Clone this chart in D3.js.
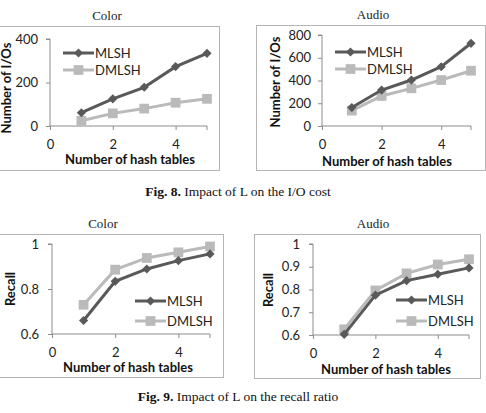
<!DOCTYPE html>
<html>
<head>
<meta charset="utf-8">
<script src="https://cdn.jsdelivr.net/npm/d3@7"></script>
<style>
    body { margin: 0; background: #fff; }
    svg { display: block; }
    .d3-axis path, .d3-axis line { stroke: #8c8c8c; }
    .d3-axis text { font-family: Lato, "Open Sans", sans-serif; font-size: 13px; fill: #222; }
</style>
</head>
<body>
<svg id="chart"></svg>
<script>
// data
var hashTables = [1, 2, 3, 4, 5];
var xTicks = [0, 2, 4];
var seriesNames = ['MLSH', 'DMLSH'];

var colorIoMlsh = [61, 125, 178, 273, 334];
var colorIoDmlsh = [24, 58, 80, 107, 125];
var audioIoMlsh = [162, 316, 404, 521, 727];
var audioIoDmlsh = [135, 264, 331, 404, 486];
var colorRecallMlsh = [0.660, 0.834, 0.889, 0.926, 0.956];
var colorRecallDmlsh = [0.730, 0.886, 0.938, 0.963, 0.989];
var audioRecallMlsh = [0.603, 0.775, 0.839, 0.867, 0.895];
var audioRecallDmlsh = [0.625, 0.796, 0.871, 0.910, 0.933];

var colorIoTicks = [0, 200, 400];
var audioIoTicks = [0, 200, 400, 600, 800];
var colorRecallTicks = [0.6, 0.8, 1];
var audioRecallTicks = [0.6, 0.7, 0.8, 0.9, 1];

var svg = d3.select('#chart').attr('width', 486).attr('height', 413);

var seriesStyle = [
    { color: '#595959', marker: 'diamond' },
    { color: '#bababa', marker: 'square' }
];

// plain number labels, like "0.6" and "1"
var plainFormat = function (d) { return String(d); };

function drawLineChart(options, dataset) {
    var g = svg.append('g');

    // outer box of the chart
    g.append('rect')
        .attr('x', options.box.x + 0.5)
        .attr('y', options.box.y + 0.5)
        .attr('width', options.box.w)
        .attr('height', options.box.h)
        .attr('fill', 'none')
        .attr('stroke', '#b4b4b4');

    // title above box
    svg.append('text')
        .text(options.title)
        .attr('x', options.titleX)
        .attr('y', options.box.y - 6)
        .attr('text-anchor', 'middle')
        .attr('font-family', '"Liberation Serif", serif')
        .attr('font-size', '13px')
        .attr('fill', '#222');

    var xScale = d3.scaleLinear().domain([0, 5]).range(options.xRange);
    var yScale = d3.scaleLinear().domain(options.yDomain).range(options.yRange);

    // axes
    g.append('g')
        .attr('class', 'd3-axis')
        .attr('transform', 'translate(' + options.xRange[0] + ',0)')
        .call(d3.axisLeft(yScale).tickValues(options.yTicks).tickFormat(plainFormat).tickSize(4).tickPadding(options.yPad))
        .call(function (a) { a.select('.domain').attr('d', 'M-4,' + options.yRange[1] + 'H0V' + options.yRange[0]); });

    g.append('g')
        .attr('class', 'd3-axis')
        .attr('transform', 'translate(0,' + options.yRange[0] + ')')
        .call(d3.axisBottom(xScale).tickValues(xTicks).tickFormat(plainFormat).tickSize(4).tickPadding(10))
        .call(function (a) { a.select('.domain').attr('d', 'M' + options.xRange[0] + ',0H' + options.xRange[1] + 'v4'); });

    // axis titles
    g.append('text')
        .text('Number of hash tables')
        .attr('x', options.xTitleX)
        .attr('y', options.xTitleY)
        .attr('text-anchor', 'middle')
        .attr('font-family', 'Lato, "Open Sans", sans-serif')
        .attr('font-weight', 'bold')
        .attr('font-size', '13px')
        .attr('fill', '#111');

    g.append('text')
        .text(options.yLabel)
        .attr('transform', 'translate(' + options.yTitleX + ',' + options.yTitleY + ') rotate(-90)')
        .attr('text-anchor', 'middle')
        .attr('dy', '0.35em')
        .attr('font-family', 'Lato, "Open Sans", sans-serif')
        .attr('font-weight', 'bold')
        .attr('font-size', '13px')
        .attr('fill', '#111');

    var line = d3.line()
        .x(function (d, i) { return xScale(hashTables[i]); })
        .y(function (d) { return yScale(d); });

    // light series drawn first so dark one sits on top
    [1, 0].forEach(function (s) {
        var st = seriesStyle[s];
        g.append('path')
            .datum(dataset[s])
            .attr('d', line)
            .attr('fill', 'none')
            .attr('stroke', st.color)
            .attr('stroke-width', 3);

        g.selectAll('.m' + s)
            .data(dataset[s])
            .enter()
            .append('path')
            .attr('d', d3.symbol().type(d3.symbolSquare).size(st.marker === 'square' ? 95 : 42))
            .attr('transform', function (d, i) {
                return 'translate(' + xScale(hashTables[i]) + ',' + yScale(d) + ')' + (st.marker === 'diamond' ? ' rotate(45)' : '');
            })
            .attr('fill', st.color);
    });

    // legend
    var lg = g.append('g').attr('transform', 'translate(' + options.legend.x + ',' + options.legend.y + ')');
    var rows = lg.selectAll('g')
        .data(seriesNames)
        .enter()
        .append('g')
        .attr('transform', function (d, i) { return 'translate(0,' + i * options.legend.step + ')'; });
    rows.append('line')
        .attr('x1', 0).attr('x2', 31)
        .attr('stroke', function (d, i) { return seriesStyle[i].color; })
        .attr('stroke-width', 3);
    rows.append('path')
        .attr('d', function (d, i) { return d3.symbol().type(d3.symbolSquare).size(i === 1 ? 95 : 42)(); })
        .attr('transform', function (d, i) { return 'translate(15.5,0)' + (i === 0 ? ' rotate(45)' : ''); })
        .attr('fill', function (d, i) { return seriesStyle[i].color; });
    rows.append('text')
        .text(function (d) { return d; })
        .attr('x', 32)
        .attr('dy', '0.36em')
        .attr('font-family', 'Lato, "Open Sans", sans-serif')
        .attr('font-size', '13px')
        .attr('fill', '#222');
}

drawLineChart({
    title: 'Color', titleX: 107,
    box: { x: -5, y: 26, w: 224, h: 144 },
    xRange: [50, 207], yRange: [126, 39], yDomain: [0, 400], yTicks: colorIoTicks, yPad: 8,
    yLabel: 'Number of I/Os', yTitleX: 6, yTitleY: 88,
    xTitleX: 130, xTitleY: 164,
    legend: { x: 63, y: 53, step: 17 }
}, [colorIoMlsh, colorIoDmlsh]);

drawLineChart({
    title: 'Audio', titleX: 373,
    box: { x: 256, y: 25, w: 229, h: 145 },
    xRange: [322, 471], yRange: [126, 35], yDomain: [0, 800], yTicks: audioIoTicks, yPad: 7,
    yLabel: 'Number of I/Os', yTitleX: 275, yTitleY: 82,
    xTitleX: 387, xTitleY: 166,
    legend: { x: 335, y: 52, step: 17 }
}, [audioIoMlsh, audioIoDmlsh]);

drawLineChart({
    title: 'Color', titleX: 103,
    box: { x: -5, y: 234, w: 228, h: 143 },
    xRange: [52, 210], yRange: [334, 244], yDomain: [0.6, 1], yTicks: colorRecallTicks, yPad: 9,
    yLabel: 'Recall', yTitleX: 10, yTitleY: 289,
    xTitleX: 128, xTitleY: 372,
    legend: { x: 135, y: 301, step: 20 }
}, [colorRecallMlsh, colorRecallDmlsh]);

drawLineChart({
    title: 'Audio', titleX: 373,
    box: { x: 254, y: 234, w: 226, h: 144 },
    xRange: [313, 469], yRange: [335, 244], yDomain: [0.6, 1], yTicks: audioRecallTicks, yPad: 9,
    yLabel: 'Recall', yTitleX: 268, yTitleY: 290,
    xTitleX: 386, xTitleY: 374,
    legend: { x: 396, y: 300, step: 21 }
}, [audioRecallMlsh, audioRecallDmlsh]);

// figure captions
function caption(y, bold, rest) {
    var t = svg.append('text')
        .attr('x', 238)
        .attr('y', y)
        .attr('text-anchor', 'middle')
        .attr('font-family', '"Liberation Serif", serif')
        .attr('font-size', '13.5px')
        .attr('fill', '#111');
    t.append('tspan').attr('font-weight', 'bold').text(bold);
    t.append('tspan').text(rest);
}
caption(196, 'Fig. 8.', ' Impact of L on the I/O cost');
caption(401, 'Fig. 9.', ' Impact of L on the recall ratio');
</script>
</body>
</html>
